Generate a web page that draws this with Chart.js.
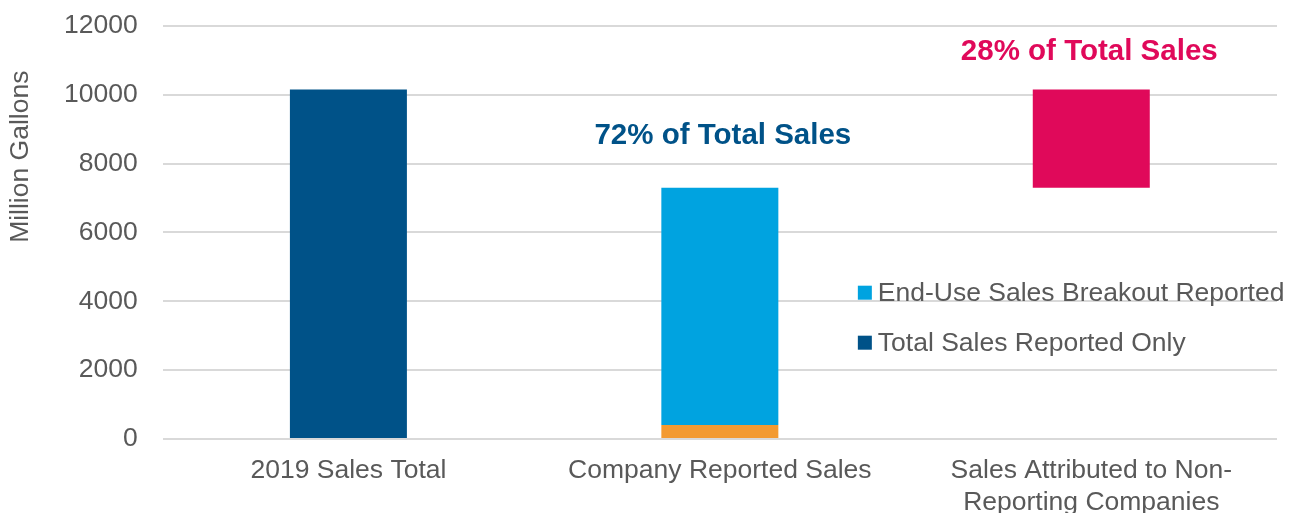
<!DOCTYPE html>
<html lang="en">

<head>
    <meta charset="UTF-8">
    <title>2019 Sales Breakdown</title>
    <script src="https://cdn.jsdelivr.net/npm/chart.js"></script>
    <style>
        * {
            margin: 0;
            padding: 0;
        }

        body {
            background-color: #fff;
        }

        #wrap {
            width: 1299px;
            height: 513px;
            position: relative;
        }
    </style>
</head>

<body>
    <div id="wrap">
        <canvas id="myChart"></canvas>
    </div>

    <script>
        // categories (multi-line label for the last one)
        const categories = [
            '2019 Sales Total',
            'Company Reported Sales',
            ['Sales Attributed to Non-', 'Reporting Companies']
        ];

        // floating bars: [start, end] in million gallons
        const totalSales = [[0, 10150], null, null];
        const totalReportedOnly = [null, [0, 410], null];
        const endUseReported = [null, [410, 7300], null];
        const nonReporting = [null, null, [7300, 10150]];

        const yTicks = [0, 2000, 4000, 6000, 8000, 10000, 12000];

        const darkBlue = '#005288';
        const lightBlue = '#00A3E0';
        const orange = '#F39A31';
        const magenta = '#E0095A';
        const grey = '#595959';
        const font = '"Liberation Sans", Arial, sans-serif';

        // text callouts above the bars
        const callouts = [
            { text: '72% of Total Sales', index: 1, value: 8570, dx: 3, color: darkBlue },
            { text: '28% of Total Sales', index: 2, value: 11010, dx: -2, color: magenta }
        ];

        // legend drawn inside the plot area
        const insideLegend = {
            id: 'insideLegend',
            afterDraw(chart) {
                const ctx = chart.ctx;
                const x = chart.scales.x.getPixelForValue(1) + 138;
                let y = chart.scales.y.getPixelForValue(4250);
                ctx.save();
                ctx.font = '26.5px ' + font;
                ctx.textBaseline = 'middle';
                chart.data.datasets.forEach(function (ds) {
                    if (!ds.inLegend) return;
                    ctx.fillStyle = ds.backgroundColor;
                    ctx.fillRect(x, y - 7, 14, 14);
                    ctx.fillStyle = grey;
                    ctx.fillText(ds.label, x + 20, y + 1);
                    y += 50;
                });
                ctx.restore();
            }
        };

        const calloutPlugin = {
            id: 'callouts',
            afterDraw(chart) {
                const ctx = chart.ctx;
                ctx.save();
                ctx.font = 'bold 29.5px ' + font;
                ctx.textAlign = 'center';
                ctx.textBaseline = 'alphabetic';
                callouts.forEach(function (c) {
                    ctx.fillStyle = c.color;
                    ctx.fillText(c.text, chart.scales.x.getPixelForValue(c.index) + c.dx,
                        chart.scales.y.getPixelForValue(c.value));
                });

                // y axis title, sits higher than the axis centre
                ctx.font = '26.5px ' + font;
                ctx.fillStyle = grey;
                ctx.translate(28, chart.scales.y.getPixelForValue(8200));
                ctx.rotate(-Math.PI / 2);
                ctx.fillText('Million Gallons', 0, 0);
                ctx.restore();
            }
        };

        const data = {
            labels: categories,
            datasets: [
                { label: '2019 Sales Total', data: totalSales, backgroundColor: darkBlue },
                { label: 'Total Sales Reported Only', data: totalReportedOnly, backgroundColor: orange },
                { label: 'End-Use Sales Breakout Reported', data: endUseReported, backgroundColor: lightBlue, inLegend: true },
                { label: 'Non-Reporting', data: nonReporting, backgroundColor: magenta }
            ]
        };

        // legend entry: dark blue square for "Total Sales Reported Only"
        data.datasets.push({
            label: 'Total Sales Reported Only', data: [null, null, null],
            backgroundColor: darkBlue, inLegend: true
        });

        const config = {
            type: 'bar',
            data: data,
            plugins: [insideLegend, calloutPlugin],
            options: {
                responsive: true,
                maintainAspectRatio: false,
                animation: false,
                grouped: false,
                categoryPercentage: 1,
                barPercentage: 0.315,
                layout: {
                    padding: { left: 54, right: 22, top: 0, bottom: 0 }
                },
                plugins: {
                    legend: { display: false },
                    tooltip: { enabled: false }
                },
                scales: {
                    x: {
                        grid: { display: false },
                        border: { display: false },
                        ticks: {
                            color: grey,
                            padding: 8,
                            maxRotation: 0,
                            font: { family: font, size: 26.5, lineHeight: 1.2 }
                        },
                        afterFit: function (scale) {
                            scale.height = 74;
                        }
                    },
                    y: {
                        min: 0,
                        max: 12000,
                        afterBuildTicks: function (scale) {
                            scale.ticks = yTicks.map(v => ({ value: v }));
                        },
                        grid: {
                            color: '#D9D9D9', lineWidth: 2,
                            drawTicks: true, tickLength: 15, tickColor: 'rgba(0,0,0,0)'
                        },
                        border: { display: false },
                        ticks: {
                            color: grey,
                            padding: 10,
                            font: { family: font, size: 26.5 },
                            callback: function (value) {
                                return String(value);
                            }
                        }
                    }
                }
            }
        };

        const myChartInstance = new Chart(document.getElementById('myChart'), config);
    </script>
</body>

</html>
